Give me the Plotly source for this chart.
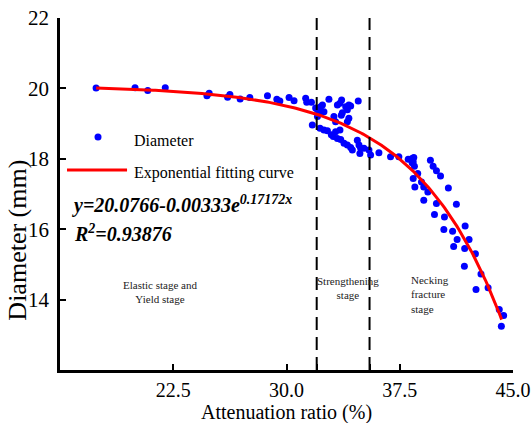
import numpy as np
import plotly.graph_objects as go

# ---- data ----
ratio = [17.39, 19.97, 20.81, 21.97, 24.73, 24.88, 26.10, 26.25, 26.93, 27.57, 28.74, 29.36, 29.56, 30.17, 30.50,
         31.27, 31.34, 31.65, 31.93, 32.05, 32.26, 32.38, 32.81, 33.65, 33.54, 33.37, 34.13, 34.25, 33.92, 34.03,
         33.70, 33.63, 34.75, 32.48, 32.22, 32.05, 33.14, 33.25, 34.13, 34.03, 31.71, 32.22, 32.48, 32.71, 32.97,
         33.10, 33.37, 33.59, 33.25, 33.54, 33.81, 34.03, 34.25, 34.36, 34.69, 34.80, 34.91, 35.13, 35.46, 35.57,
         34.86, 36.12, 36.89, 37.44, 38.06, 38.32, 38.39,
         38.43, 38.32, 38.47, 38.69, 38.39, 38.50, 38.94, 39.09, 39.36, 39.09, 39.53, 39.71, 39.93, 40.20, 40.72,
         39.93, 41.25, 39.80, 40.46, 40.42, 41.00, 41.83, 41.30, 42.09,
         41.07, 41.80, 42.51, 41.78, 42.88, 42.55, 43.35, 44.09, 44.38, 44.23]
diameter = [20.01, 20.02, 19.94, 20.02, 19.79, 19.86, 19.75, 19.83, 19.70, 19.74, 19.79, 19.69, 19.64, 19.74, 19.65,
            19.72, 19.61, 19.61, 19.44, 19.39, 19.48, 19.53, 19.69, 19.67, 19.58, 19.53, 19.53, 19.50, 19.48, 19.39,
            19.31, 19.24, 19.64, 19.34, 19.29, 19.20, 19.20, 19.05, 19.15, 19.05, 18.96, 18.87, 18.82, 18.80, 18.68,
            18.63, 18.58, 18.55, 18.77, 18.82, 18.44, 18.39, 18.32, 18.25, 18.53, 18.39, 18.30, 18.30, 18.25, 18.11,
            18.15, 18.17, 18.06, 18.06, 17.99, 18.01, 17.91,
            18.04, 17.89, 17.79, 17.58, 17.44, 17.20, 17.34, 17.20, 17.06, 16.82, 17.96, 17.79, 17.66, 17.51, 17.17,
            16.73, 16.71, 16.42, 16.35, 15.99, 15.94, 16.09, 15.71, 15.71,
            15.51, 15.45, 15.30, 14.95, 14.73, 14.29, 14.34, 13.72, 13.55, 13.24]

# fitted curve parameters as printed on the chart
fit_a, fit_b, fit_c = 20.0766, 0.00333, 0.17172
fit_x_range = [17.39, 44.25]

stage_bounds = [32.0, 35.5]
x_tickvals = [22.5, 30.0, 32.0, 35.5, 37.5, 45.0]
x_ticktext = ["22.5", "30.0", "", "", "37.5", "45.0"]
y_tickvals = [14, 16, 18, 20, 22]
y_ticktext = ["14", "16", "18", "20", "22"]

fit_x = np.linspace(fit_x_range[0], fit_x_range[1], 200)
fit_y = fit_a - fit_b * np.exp(fit_c * fit_x)

SERIF = "Liberation Serif, Times New Roman, serif"

fig = go.Figure()
fig.add_trace(go.Scatter(x=ratio, y=diameter, mode="markers", name="Diameter",
                         marker=dict(color="#0000FF", size=7), showlegend=False))
fig.add_trace(go.Scatter(x=fit_x, y=fit_y, mode="lines", name="Exponential fitting curve",
                         line=dict(color="#FF0000", width=3), showlegend=False))

for xb in stage_bounds:
    fig.add_shape(type="line", xref="x", yref="paper", x0=xb, x1=xb, y0=0, y1=1,
                  line=dict(color="black", width=2, dash="13px,7px"))

# legend glyphs
fig.add_shape(type="circle", xref="paper", yref="paper", xsizemode="pixel", ysizemode="pixel",
              xanchor=0.0839, yanchor=0.662, x0=-3.5, x1=3.5, y0=-3.5, y1=3.5,
              fillcolor="#0000FF", line=dict(width=0))
fig.add_shape(type="line", xref="paper", yref="paper", x0=0.0155, x1=0.148, y0=0.568, y1=0.568,
              line=dict(color="#FF0000", width=3))

ann = []
ann.append(dict(text="Diameter", x=0.158, y=0.651, xref="paper", yref="paper", xanchor="left",
                yanchor="middle", showarrow=False, font=dict(family=SERIF, size=16, color="black")))
ann.append(dict(text="Exponential fitting curve", x=0.158, y=0.56, xref="paper", yref="paper",
                xanchor="left", yanchor="middle", showarrow=False,
                font=dict(family=SERIF, size=16, color="black")))
ann.append(dict(text="<b><i>y=20.0766-0.00333e<sup>0.17172x</sup></i></b>", x=0.022, y=0.47,
                xref="paper", yref="paper", xanchor="left", yanchor="middle", showarrow=False,
                font=dict(family=SERIF, size=20, color="black")))
ann.append(dict(text="<b><i>R<sup>2</sup>=0.93876</i></b>", x=0.026, y=0.388,
                xref="paper", yref="paper", xanchor="left", yanchor="middle", showarrow=False,
                font=dict(family=SERIF, size=20, color="black")))
ann.append(dict(text="Elastic stage and<br>Yield stage", x=0.221, y=0.223, xref="paper", yref="paper",
                xanchor="center", yanchor="middle", showarrow=False, align="center",
                font=dict(family=SERIF, size=11, color="#222")))
ann.append(dict(text="Strengthening<br>stage", x=0.635, y=0.234, xref="paper", yref="paper",
                xanchor="center", yanchor="middle", showarrow=False, align="center",
                font=dict(family=SERIF, size=11, color="#222")))
ann.append(dict(text="Necking<br>fracture<br>stage", x=0.771, y=0.214, xref="paper", yref="paper",
                xanchor="left", yanchor="middle", showarrow=False, align="left",
                font=dict(family=SERIF, size=11, color="#222")))
ann.append(dict(text="Attenuation ratio (%)", x=0.5, y=-0.121, xref="paper", yref="paper",
                xanchor="center", yanchor="middle", showarrow=False,
                font=dict(family=SERIF, size=20, color="black")))
ann.append(dict(text="Diameter (mm)", x=-0.093, y=0.37, xref="paper", yref="paper",
                xanchor="center", yanchor="middle", showarrow=False, textangle=-90,
                font=dict(family=SERIF, size=26, color="black")))

fig.update_layout(
    width=532, height=423,
    margin=dict(l=60, r=19, t=18, b=53, autoexpand=False),
    plot_bgcolor="white", paper_bgcolor="white",
    annotations=ann,
    showlegend=False,
)
fig.update_xaxes(range=[15, 45], tickvals=x_tickvals, ticktext=x_ticktext, automargin=False,
                 showgrid=False, zeroline=False, showline=True, linecolor="black", linewidth=2.5,
                 ticks="inside", ticklen=6, tickwidth=2, tickcolor="black",
                 tickfont=dict(family=SERIF, size=20, color="black"), ticklabelstandoff=0)
fig.update_yaxes(range=[12, 22], tickvals=y_tickvals, ticktext=y_ticktext, automargin=False,
                 showgrid=False, zeroline=False, showline=True, linecolor="black", linewidth=2.5,
                 ticks="inside", ticklen=6, tickwidth=2, tickcolor="black",
                 tickfont=dict(family=SERIF, size=21, color="black"), ticklabelstandoff=4)

fig.write_html("out.html")
